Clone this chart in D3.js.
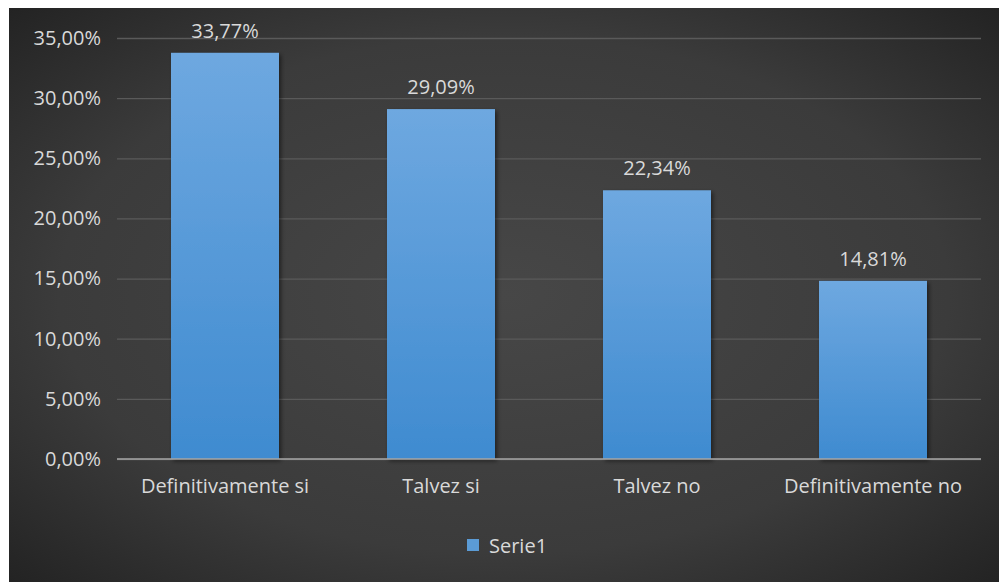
<!DOCTYPE html>
<html><head><meta charset="utf-8">
<script src="https://cdn.jsdelivr.net/npm/d3@7"></script>
<style>html,body{margin:0;padding:0;background:#fff;overflow:hidden}</style>
</head><body>
<script>
const categories = ["Definitivamente si","Talvez si","Talvez no","Definitivamente no"];
const values = [33.77, 29.09, 22.34, 14.81];
const yTicks = [0,5,10,15,20,25,30,35];
const seriesName = "Serie1";

const W=999,H=582;
const svg=d3.select("body").append("svg").attr("width",W).attr("height",H);
const defs=svg.append("defs");
const rg=defs.append("radialGradient").attr("id","bg").attr("cx","50%").attr("cy","50%").attr("r","75%");
rg.append("stop").attr("offset","0%").attr("stop-color","#474747");
rg.append("stop").attr("offset","60%").attr("stop-color","#3b3b3b");
rg.append("stop").attr("offset","100%").attr("stop-color","#1f1f1f");
const bg=defs.append("linearGradient").attr("id","bar").attr("x1",0).attr("y1",0).attr("x2",0).attr("y2",1);
bg.append("stop").attr("offset","0%").attr("stop-color","#6ea8e0");
bg.append("stop").attr("offset","100%").attr("stop-color","#3f8bd0");
const f=defs.append("filter").attr("id","sh").attr("x","-10%").attr("y","-10%").attr("width","130%").attr("height","130%");
f.append("feDropShadow").attr("dx",2).attr("dy",2).attr("stdDeviation",2).attr("flood-color","#000").attr("flood-opacity",0.5);

svg.append("rect").attr("x",9).attr("y",8).attr("width",W-9).attr("height",H-8).attr("fill","url(#bg)");

const x=d3.scaleBand().domain(categories).range([117,981]).paddingInner(0.5).paddingOuter(0.25);
const y=d3.scaleLinear().domain([0,35]).range([459,38]);
const font="'Open Sans','Noto Sans',sans-serif";
const tc="#d9d9d9";
const fs=20;
const fmt=d=>d3.format(".2f")(d).replace(".",",")+"%";

const ga=svg.append("g").attr("transform","translate(117,0)")
  .call(d3.axisLeft(y).tickValues(yTicks).tickSize(-864).tickPadding(16).tickFormat(fmt));
ga.select(".domain").remove();
ga.selectAll("line").attr("stroke","#5a5a5a").attr("stroke-width",1.3);
ga.selectAll("text").attr("fill",tc).attr("font-family",font).attr("font-size",fs);

svg.selectAll(".bar").data(values).enter().append("rect")
  .attr("x",(d,i)=>x(categories[i])).attr("width",x.bandwidth())
  .attr("y",d=>y(d)).attr("height",d=>y(0)-y(d))
  .attr("fill","url(#bar)").attr("filter","url(#sh)");

svg.append("line").attr("x1",117).attr("x2",981).attr("y1",y(0)).attr("y2",y(0)).attr("stroke","#a6a6a6").attr("stroke-width",1.3);

svg.selectAll(".vl").data(values).enter().append("text")
  .attr("x",(d,i)=>x(categories[i])+x.bandwidth()/2).attr("y",d=>y(d)-15)
  .attr("text-anchor","middle").attr("fill",tc).attr("font-family",font).attr("font-size",fs)
  .text(fmt);

const gx=svg.append("g").attr("transform",`translate(0,${y(0)})`).call(d3.axisBottom(x).tickSize(0).tickPadding(20));
gx.select(".domain").remove();
gx.selectAll("text").attr("fill",tc).attr("font-family",font).attr("font-size",fs);

const lg=svg.append("g");
lg.append("rect").attr("x",467).attr("y",539).attr("width",12).attr("height",12).attr("fill","#5b9bd5");
lg.append("text").attr("x",489).attr("y",553).attr("fill",tc).attr("font-family",font).attr("font-size",fs).text(seriesName);
</script>
</body></html>
